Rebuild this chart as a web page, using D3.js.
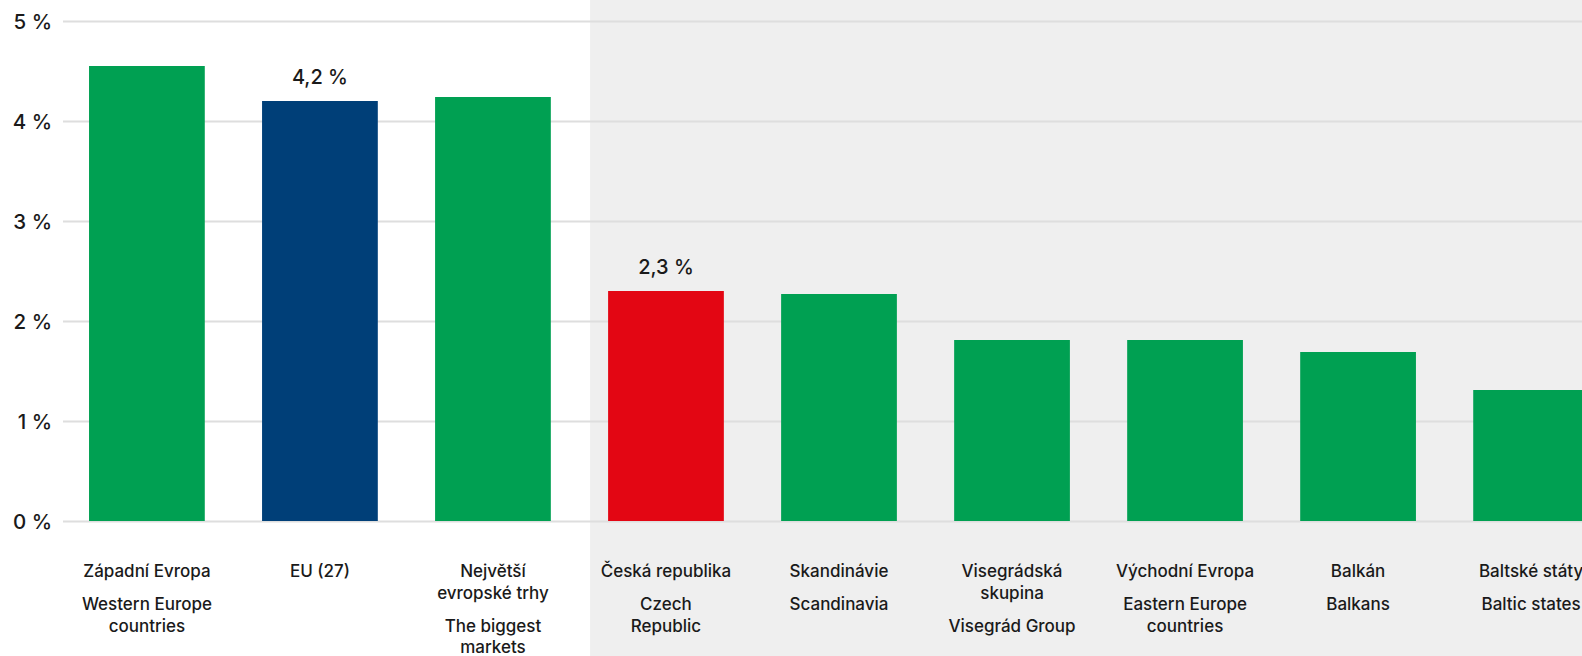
<!DOCTYPE html>
<html lang="cs">
<head>
<meta charset="utf-8">
<script src="https://cdn.jsdelivr.net/npm/d3@7"></script>
<style>
  html, body { margin: 0; padding: 0; background: #ffffff; }
  svg { display: block; }
  text { font-family: Inter, Roboto, "Noto Sans", sans-serif; fill: #1a1a1a; font-weight: 500; }
</style>
</head>
<body>
<svg id="chart" width="1582" height="656"></svg>
<script>
// Region names (Czech) and their English equivalents, split into display lines
const labelsCz = [
  ["Západní Evropa"],
  ["EU (27)"],
  ["Největší", "evropské trhy"],
  ["Česká republika"],
  ["Skandinávie"],
  ["Visegrádská", "skupina"],
  ["Východní Evropa"],
  ["Balkán"],
  ["Baltské státy"]
];
const labelsEn = [
  ["Western Europe", "countries"],
  [],
  ["The biggest", "markets"],
  ["Czech", "Republic"],
  ["Scandinavia"],
  ["Visegrád Group"],
  ["Eastern Europe", "countries"],
  ["Balkans"],
  ["Baltic states"]
];
// Share in percent
const values = [4.55, 4.2, 4.24, 2.3, 2.27, 1.81, 1.81, 1.69, 1.31];
// Bar colour role: 0 = region, 1 = EU average, 2 = Czech Republic
const roles = [0, 1, 0, 2, 0, 0, 0, 0, 0];
// Bars that carry a value label
const labelled = [false, true, false, true, false, false, false, false, false];
const yTicks = [0, 1, 2, 3, 4, 5];

const palette = ["#00a052", "#003f78", "#e30613"];
const ids = labelsCz.map((d, i) => i);

const svg = d3.select("#chart");
const W = 1582, H = 656;

const y = d3.scaleLinear().domain([0, 5]).range([521, 21]);
const x = d3.scaleBand()
  .domain(ids)
  .range([61, 1617])
  .paddingInner(0.331)
  .paddingOuter(0.162);

// Shaded background behind the Czech Republic and the regions to its right
const shadeX = x(3) - 18;
svg.append("rect")
  .attr("x", shadeX)
  .attr("y", 0)
  .attr("width", W - shadeX)
  .attr("height", H)
  .attr("fill", "#efefef");

// Horizontal gridlines and percent ticks
const yAxis = d3.axisLeft(y)
  .tickValues(yTicks)
  .tickSize(-(W - 63))
  .tickPadding(11)
  .tickFormat(d => d + " %");

svg.append("g")
  .attr("transform", "translate(63,0)")
  .call(yAxis)
  .call(g => g.select(".domain").remove())
  .call(g => g.selectAll(".tick line")
    .attr("stroke", "#dedede")
    .attr("stroke-width", 2))
  .call(g => g.selectAll(".tick text")
    .attr("font-size", 20.5)
    .attr("font-family", "Inter, Roboto, sans-serif")
    .attr("dy", "0.35em")
    .style("fill", "#1a1a1a"));

// Bars
svg.append("g")
  .selectAll("rect")
  .data(ids)
  .join("rect")
  .attr("x", i => x(i))
  .attr("y", i => y(values[i]))
  .attr("width", x.bandwidth())
  .attr("height", i => y(0) - y(values[i]))
  .attr("fill", i => palette[roles[i]]);

// Value labels above highlighted bars
const fmt = v => d3.format(".1f")(v).replace(".", ",") + " %";
svg.append("g")
  .selectAll("text")
  .data(ids.filter(i => labelled[i]))
  .join("text")
  .attr("x", i => x(i) + x.bandwidth() / 2)
  .attr("y", i => y(values[i]) - 17)
  .attr("text-anchor", "middle")
  .attr("font-size", 20)
  .text(i => fmt(values[i]));

// Category labels: Czech lines first, English lines below
const lineH = 21.5, groupGap = 33, firstBase = 577;
const cat = svg.append("g")
  .selectAll("text")
  .data(ids)
  .join("text")
  .attr("text-anchor", "middle")
  .attr("font-size", 17);

cat.each(function (i) {
  const t = d3.select(this);
  const cx = x(i) + x.bandwidth() / 2;
  let yy = firstBase;
  labelsCz[i].forEach((line, k) => {
    if (k > 0) yy += lineH;
    t.append("tspan").attr("x", cx).attr("y", yy).text(line);
  });
  labelsEn[i].forEach((line, k) => {
    yy += k === 0 ? groupGap : lineH;
    t.append("tspan").attr("x", cx).attr("y", yy).text(line);
  });
});
</script>
</body>
</html>
